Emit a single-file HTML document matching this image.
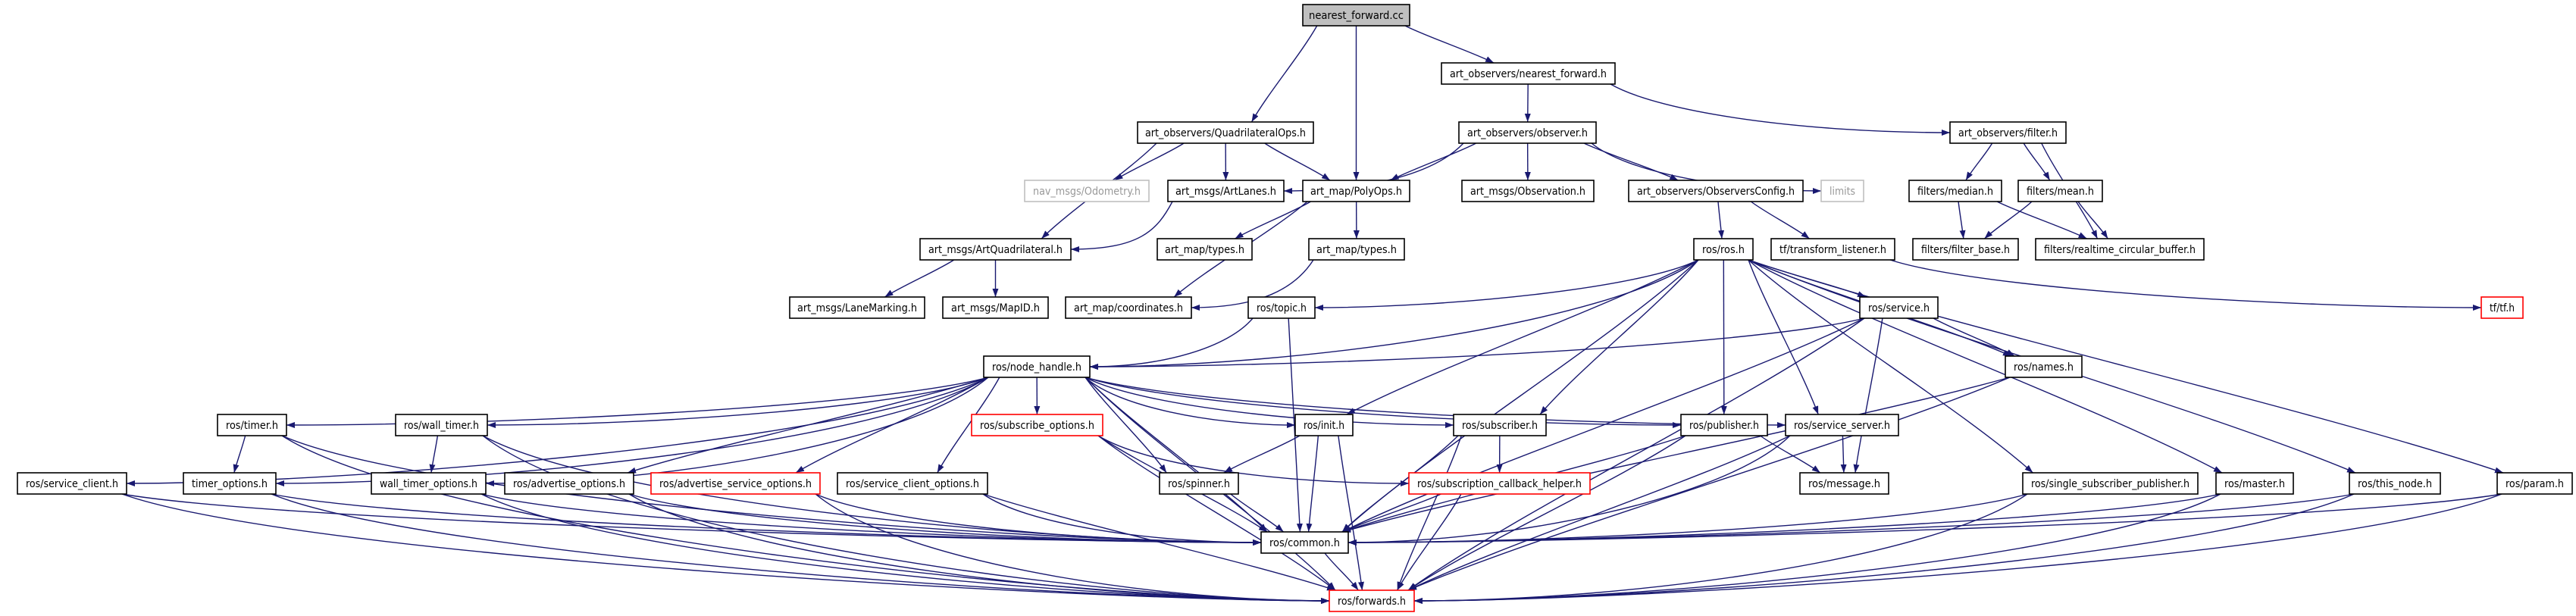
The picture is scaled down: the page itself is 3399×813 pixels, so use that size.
<!DOCTYPE html>
<html><head><meta charset="utf-8"><style>
html,body{margin:0;padding:0;background:#fff;}
svg{display:block;}
text{font-family:"DejaVu Sans Condensed","Liberation Sans",sans-serif;font-size:14px;fill:#000;}
rect{fill:#fff;stroke:#000;stroke-width:1.6;}
rect.g{stroke:#bfbfbf;}
rect.r{stroke:#f00;}
rect.f{fill:#bfbfbf;}
text.g{fill:#999;}
</style></head><body>
<svg id="s" width="3399" height="813" viewBox="0 0 3399 813" xmlns="http://www.w3.org/2000/svg">
<defs><marker id="a" markerUnits="userSpaceOnUse" markerWidth="12" markerHeight="9" refX="11" refY="4" orient="auto"><path d="M0,0 L11,4 L0,8 z" fill="#191970"/></marker></defs>
<g id="edges"></g>
<g id="nodes">
<rect id="nfcc" class="f" x="1719" y="6" width="141" height="28"/><text x="1789.5" y="25" text-anchor="middle" textLength="125" lengthAdjust="spacingAndGlyphs">nearest_forward.cc</text>
<rect id="nfh" x="1902" y="83" width="229" height="28"/><text x="2016.5" y="102" text-anchor="middle" textLength="207" lengthAdjust="spacingAndGlyphs">art_observers/nearest_forward.h</text>
<rect id="quad" x="1501" y="161" width="232" height="28"/><text x="1617" y="180" text-anchor="middle" textLength="212" lengthAdjust="spacingAndGlyphs">art_observers/QuadrilateralOps.h</text>
<rect id="obs" x="1925" y="161" width="181" height="28"/><text x="2015.5" y="180" text-anchor="middle" textLength="159" lengthAdjust="spacingAndGlyphs">art_observers/observer.h</text>
<rect id="filter" x="2573" y="161" width="153" height="28"/><text x="2649.5" y="180" text-anchor="middle" textLength="131" lengthAdjust="spacingAndGlyphs">art_observers/filter.h</text>
<rect id="odom" class="g" x="1352" y="238" width="164" height="28"/><text class="g" x="1434" y="257" text-anchor="middle" textLength="142" lengthAdjust="spacingAndGlyphs">nav_msgs/Odometry.h</text>
<rect id="lanes" x="1541" y="238" width="153" height="28"/><text x="1617.5" y="257" text-anchor="middle" textLength="133" lengthAdjust="spacingAndGlyphs">art_msgs/ArtLanes.h</text>
<rect id="poly" x="1719" y="238" width="141" height="28"/><text x="1789.5" y="257" text-anchor="middle" textLength="121" lengthAdjust="spacingAndGlyphs">art_map/PolyOps.h</text>
<rect id="observation" x="1929" y="238" width="174" height="28"/><text x="2016" y="257" text-anchor="middle" textLength="152" lengthAdjust="spacingAndGlyphs">art_msgs/Observation.h</text>
<rect id="oconf" x="2149" y="238" width="230" height="28"/><text x="2264" y="257" text-anchor="middle" textLength="208" lengthAdjust="spacingAndGlyphs">art_observers/ObserversConfig.h</text>
<rect id="limits" class="g" x="2403" y="238" width="56" height="28"/><text class="g" x="2431" y="257" text-anchor="middle" textLength="34" lengthAdjust="spacingAndGlyphs">limits</text>
<rect id="median" x="2519" y="238" width="122" height="28"/><text x="2580" y="257" text-anchor="middle" textLength="100" lengthAdjust="spacingAndGlyphs">filters/median.h</text>
<rect id="mean" x="2663" y="238" width="111" height="28"/><text x="2718.5" y="257" text-anchor="middle" textLength="89" lengthAdjust="spacingAndGlyphs">filters/mean.h</text>
<rect id="aquad" x="1214" y="315" width="199" height="28"/><text x="1313.5" y="334" text-anchor="middle" textLength="177" lengthAdjust="spacingAndGlyphs">art_msgs/ArtQuadrilateral.h</text>
<rect id="types1" x="1527" y="315" width="125" height="28"/><text x="1589.5" y="334" text-anchor="middle" textLength="105" lengthAdjust="spacingAndGlyphs">art_map/types.h</text>
<rect id="types2" x="1727" y="315" width="126" height="28"/><text x="1790" y="334" text-anchor="middle" textLength="106" lengthAdjust="spacingAndGlyphs">art_map/types.h</text>
<rect id="ros" x="2235" y="315" width="78" height="28"/><text x="2274" y="334" text-anchor="middle" textLength="56" lengthAdjust="spacingAndGlyphs">ros/ros.h</text>
<rect id="tl" x="2337" y="315" width="163" height="28"/><text x="2418.5" y="334" text-anchor="middle" textLength="141" lengthAdjust="spacingAndGlyphs">tf/transform_listener.h</text>
<rect id="fbase" x="2524" y="315" width="139" height="28"/><text x="2593.5" y="334" text-anchor="middle" textLength="117" lengthAdjust="spacingAndGlyphs">filters/filter_base.h</text>
<rect id="rcb" x="2686" y="315" width="222" height="28"/><text x="2797" y="334" text-anchor="middle" textLength="200" lengthAdjust="spacingAndGlyphs">filters/realtime_circular_buffer.h</text>
<rect id="lane" x="1042" y="392" width="178" height="28"/><text x="1131" y="411" text-anchor="middle" textLength="158" lengthAdjust="spacingAndGlyphs">art_msgs/LaneMarking.h</text>
<rect id="mapid" x="1244" y="392" width="139" height="28"/><text x="1313.5" y="411" text-anchor="middle" textLength="117" lengthAdjust="spacingAndGlyphs">art_msgs/MapID.h</text>
<rect id="coord" x="1406" y="392" width="166" height="28"/><text x="1489" y="411" text-anchor="middle" textLength="144" lengthAdjust="spacingAndGlyphs">art_map/coordinates.h</text>
<rect id="topic" x="1647" y="392" width="88" height="28"/><text x="1691" y="411" text-anchor="middle" textLength="66" lengthAdjust="spacingAndGlyphs">ros/topic.h</text>
<rect id="service" x="2454" y="392" width="103" height="28"/><text x="2505.5" y="411" text-anchor="middle" textLength="81" lengthAdjust="spacingAndGlyphs">ros/service.h</text>
<rect id="tf" class="r" x="3274" y="392" width="55" height="28"/><text x="3301.5" y="411" text-anchor="middle" textLength="33" lengthAdjust="spacingAndGlyphs">tf/tf.h</text>
<rect id="nh" x="1298" y="470" width="140" height="28"/><text x="1368" y="489" text-anchor="middle" textLength="118" lengthAdjust="spacingAndGlyphs">ros/node_handle.h</text>
<rect id="names" x="2646" y="470" width="101" height="28"/><text x="2696.5" y="489" text-anchor="middle" textLength="79" lengthAdjust="spacingAndGlyphs">ros/names.h</text>
<rect id="timer" x="287" y="547" width="91" height="28"/><text x="332.5" y="566" text-anchor="middle" textLength="69" lengthAdjust="spacingAndGlyphs">ros/timer.h</text>
<rect id="wtimer" x="522" y="547" width="121" height="28"/><text x="582.5" y="566" text-anchor="middle" textLength="99" lengthAdjust="spacingAndGlyphs">ros/wall_timer.h</text>
<rect id="subopt" class="r" x="1282" y="547" width="173" height="28"/><text x="1368.5" y="566" text-anchor="middle" textLength="151" lengthAdjust="spacingAndGlyphs">ros/subscribe_options.h</text>
<rect id="init" x="1709" y="547" width="76" height="28"/><text x="1747" y="566" text-anchor="middle" textLength="54" lengthAdjust="spacingAndGlyphs">ros/init.h</text>
<rect id="subscriber" x="1918" y="547" width="122" height="28"/><text x="1979" y="566" text-anchor="middle" textLength="100" lengthAdjust="spacingAndGlyphs">ros/subscriber.h</text>
<rect id="publisher" x="2218" y="547" width="114" height="28"/><text x="2275" y="566" text-anchor="middle" textLength="92" lengthAdjust="spacingAndGlyphs">ros/publisher.h</text>
<rect id="sserver" x="2356" y="547" width="149" height="28"/><text x="2430.5" y="566" text-anchor="middle" textLength="127" lengthAdjust="spacingAndGlyphs">ros/service_server.h</text>
<rect id="sclient" x="23" y="624" width="144" height="28"/><text x="95" y="643" text-anchor="middle" textLength="122" lengthAdjust="spacingAndGlyphs">ros/service_client.h</text>
<rect id="topt" x="242" y="624" width="122" height="28"/><text x="303" y="643" text-anchor="middle" textLength="100" lengthAdjust="spacingAndGlyphs">timer_options.h</text>
<rect id="wtopt" x="490" y="624" width="151" height="28"/><text x="565.5" y="643" text-anchor="middle" textLength="129" lengthAdjust="spacingAndGlyphs">wall_timer_options.h</text>
<rect id="advopt" x="666" y="624" width="170" height="28"/><text x="751" y="643" text-anchor="middle" textLength="148" lengthAdjust="spacingAndGlyphs">ros/advertise_options.h</text>
<rect id="advsopt" class="r" x="859" y="624" width="223" height="28"/><text x="970.5" y="643" text-anchor="middle" textLength="201" lengthAdjust="spacingAndGlyphs">ros/advertise_service_options.h</text>
<rect id="scopt" x="1105" y="624" width="198" height="28"/><text x="1204" y="643" text-anchor="middle" textLength="176" lengthAdjust="spacingAndGlyphs">ros/service_client_options.h</text>
<rect id="spinner" x="1530" y="624" width="104" height="28"/><text x="1582" y="643" text-anchor="middle" textLength="82" lengthAdjust="spacingAndGlyphs">ros/spinner.h</text>
<rect id="sch" class="r" x="1859" y="624" width="239" height="28"/><text x="1978.5" y="643" text-anchor="middle" textLength="217" lengthAdjust="spacingAndGlyphs">ros/subscription_callback_helper.h</text>
<rect id="message" x="2375" y="624" width="117" height="28"/><text x="2433.5" y="643" text-anchor="middle" textLength="95" lengthAdjust="spacingAndGlyphs">ros/message.h</text>
<rect id="ssp" x="2669" y="624" width="231" height="28"/><text x="2784.5" y="643" text-anchor="middle" textLength="209" lengthAdjust="spacingAndGlyphs">ros/single_subscriber_publisher.h</text>
<rect id="master" x="2924" y="624" width="102" height="28"/><text x="2975" y="643" text-anchor="middle" textLength="80" lengthAdjust="spacingAndGlyphs">ros/master.h</text>
<rect id="thisnode" x="3100" y="624" width="120" height="28"/><text x="3160" y="643" text-anchor="middle" textLength="98" lengthAdjust="spacingAndGlyphs">ros/this_node.h</text>
<rect id="param" x="3295" y="624" width="99" height="28"/><text x="3344.5" y="643" text-anchor="middle" textLength="77" lengthAdjust="spacingAndGlyphs">ros/param.h</text>
<rect id="common" x="1664" y="702" width="115" height="28"/><text x="1721.5" y="721" text-anchor="middle" textLength="93" lengthAdjust="spacingAndGlyphs">ros/common.h</text>
<rect id="forwards" class="r" x="1754" y="779" width="112" height="28"/><text x="1810" y="798" text-anchor="middle" textLength="90" lengthAdjust="spacingAndGlyphs">ros/forwards.h</text>
</g>
</svg>
<script>
(function(){
var E={
nfcc:"quad poly nfh",nfh:"obs filter",quad:"aquad odom lanes poly",
obs:"lanes poly observation oconf limits",lanes:"aquad",poly:"types1 types2 coord",types2:"coord",
aquad:"lane mapid",oconf:"ros tl",filter:"median mean rcb",median:"fbase rcb",mean:"fbase rcb",tl:"tf",
ros:"nh topic init common subscriber publisher sserver service names ssp master thisnode param",
topic:"nh common",service:"nh common names message forwards",names:"common forwards",
nh:"sclient timer topt wtimer wtopt advopt advsopt scopt subopt spinner init subscriber publisher sserver common forwards",
timer:"topt common forwards",wtimer:"wtopt common forwards",sclient:"common forwards",topt:"common forwards",
wtopt:"common forwards",advopt:"common forwards",advsopt:"common forwards",scopt:"common forwards",
subopt:"sch common forwards",init:"spinner common forwards",spinner:"common",subscriber:"sch common forwards",
sch:"common forwards",publisher:"message common forwards",sserver:"message common forwards",
ssp:"common forwards",master:"common forwards",thisnode:"common forwards",param:"common forwards",common:"forwards"};
function box(id){var r=document.getElementById(id);var x=+r.getAttribute('x'),y=+r.getAttribute('y'),w=+r.getAttribute('width'),h=+r.getAttribute('height');return{x:x,y:y,w:w,h:h,cx:x+w/2,cy:y+h/2};}
function cl(v,m){return Math.max(-m,Math.min(m,v));}
var g=document.getElementById('edges'),out='';
for(var s in E){E[s].split(' ').forEach(function(t){
 var a=box(s),b=box(t);var dx=b.cx-a.cx,dy=b.y-(a.y+a.h);var sx,sy,tx,ty,c1x,c1y,c2x,c2y;
 sx=a.cx+cl(dx*0.3,a.w/2-6);sy=a.y+a.h;
 if(Math.abs(dx)>5.5*Math.max(dy,1)){
  tx=dx<0?b.x+b.w:b.x;ty=b.cy;
  c1x=sx+(tx-sx)*0.15;c1y=sy+(ty-sy)*0.6;c2x=tx-(dx<0?-1:1)*Math.min(Math.abs(dx)*0.3,300);c2y=ty;
 }else{
  tx=b.cx+cl(-dx*0.2,b.w/2-8);ty=b.y;
  var ddx=tx-sx,ddy=ty-sy;
  c1x=sx+ddx*0.25;c1y=sy+ddy*0.3;c2x=tx-ddx*0.25;c2y=ty-ddy*0.3;
 }
 out+='<path d="M'+sx+','+sy+' C'+c1x+','+c1y+' '+c2x+','+c2y+' '+tx+','+ty+'" fill="none" stroke="#191970" stroke-width="1.4" marker-end="url(#a)"/>';
});}
g.innerHTML=out;
})();
</script>
</body></html>
